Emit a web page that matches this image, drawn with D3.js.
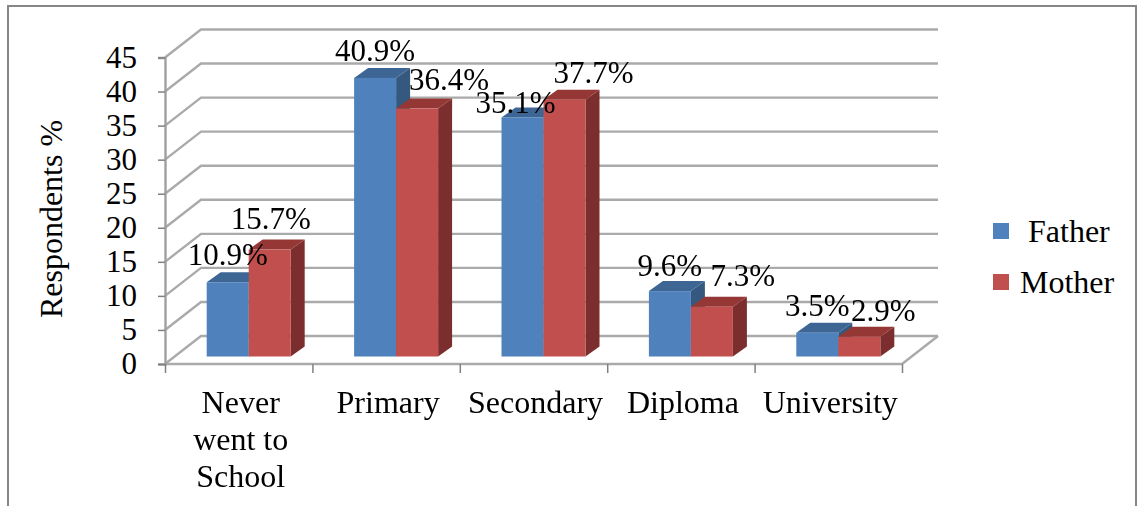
<!DOCTYPE html>
<html>
<head>
<meta charset="utf-8">
<script src="https://cdn.jsdelivr.net/npm/d3@7"></script>
<style>
  html, body { margin: 0; padding: 0; background: #fff; }
  svg { display: block; }
  text { font-family: "Liberation Serif", serif; fill: #000; }
</style>
</head>
<body>
<div id="chart"></div>
<script>
// values
const categories = [["Never", "went to", "School"], ["Primary"], ["Secondary"], ["Diploma"], ["University"]];
const seriesNames = ["Father", "Mother"];
const fatherValues = [10.9, 40.9, 35.1, 9.6, 3.5];
const motherValues = [15.7, 36.4, 37.7, 7.3, 2.9];
const yTicks = [0, 5, 10, 15, 20, 25, 30, 35, 40, 45];

const width = 1138, height = 506;
const fontSize = 32;

// plot box, front corner of the 3d floor
const plot = { left: 165, right: 902, top: 57.5, bottom: 364 };
const wall = { dx: 36, dy: -28 };      // how far the back wall sits behind the front edge
const barInset = { dx: 10, dy: -7.5 }; // where the bars stand on the floor
const barDepth = { dx: 14, dy: -10 };
const barWidth = 42;

const colors = {
    Father: { front: "#4f81bd", top: "#3c6695", side: "#34597f" },
    Mother: { front: "#c0504d", top: "#953735", side: "#7b2f2d" }
};

// labels were moved by hand in the original, [dx, baseline above bar top]
const labelNudge = {
    Father: [[0, 17], [0, 17], [-7, 4], [0, 15], [0, 17]],
    Mother: [[1, 21], [32, 19], [29, 17], [31, 21], [24, 16]]
};

const svg = d3.select("#chart").append("svg")
    .attr("width", width)
    .attr("height", height);

const defs = svg.append("defs");
defs.append("filter").attr("id", "soft")
    .append("feGaussianBlur").attr("stdDeviation", 0.5);

const y = d3.scaleLinear().domain([0, 45]).range([plot.bottom, plot.top]);
const xEdge = d3.scaleLinear().domain([0, categories.length]).range([plot.left, plot.right]);
const x0 = d3.scaleBand().domain(d3.range(categories.length)).range([plot.left, plot.right]);
const x1 = d3.scaleBand().domain(seriesNames)
    .range([0, barWidth * 2]);
const groupOffset = (x0.bandwidth() - barWidth * 2) / 2;

//outer frame, open at the bottom
svg.append("path")
    .attr("d", d3.line()([[8, height], [8, 6], [1136, 6], [1136, height]]))
    .attr("fill", "none")
    .attr("stroke", "#868686")
    .attr("stroke-width", 2);

//gridlines on the back wall and side wall
const grid = svg.append("g").attr("filter", "url(#soft)");
grid.selectAll(".grid")
    .data(yTicks)
    .enter()
    .append("path")
    .attr("class", "grid")
    .attr("d", d => d3.line()([
        [plot.left, y(d)],
        [plot.left + wall.dx, y(d) + wall.dy],
        [plot.right + wall.dx, y(d) + wall.dy]
    ]))
    .attr("fill", "none")
    .attr("stroke", "#aaaaaa")
    .attr("stroke-width", 2.4);

//floor edges
grid.append("path")
    .attr("d", d3.line()([
        [plot.left, plot.bottom],
        [plot.right, plot.bottom],
        [plot.right + wall.dx, plot.bottom + wall.dy]
    ]))
    .attr("fill", "none")
    .attr("stroke", "#aaaaaa")
    .attr("stroke-width", 2.4);

//axes
const yAxis = svg.append("g")
    .attr("transform", "translate(" + plot.left + ",0)")
    .call(d3.axisLeft(y).tickValues(yTicks).tickSize(7).tickPadding(21));
yAxis.select(".domain").attr("stroke", "#a0a0a0").attr("stroke-width", 2.4);
yAxis.selectAll("line").attr("stroke", "#808080").attr("stroke-width", 1.5);
yAxis.selectAll("text")
    .style("font-family", '"Liberation Serif", serif')
    .style("font-size", "31px");

const xAxis = svg.append("g")
    .attr("transform", "translate(0," + plot.bottom + ")")
    .call(d3.axisBottom(xEdge).ticks(categories.length).tickSize(9).tickFormat(""));
xAxis.select(".domain").remove();
xAxis.selectAll("line").attr("stroke", "#808080").attr("stroke-width", 1.5);

//bars
function drawSeries(name, values) {
    const c = colors[name];
    const g = svg.append("g").attr("filter", "url(#soft)");
    const bars = g.selectAll(".bar-" + name)
        .data(values)
        .enter()
        .append("g")
        .attr("class", "bar-" + name)
        .attr("transform", (d, i) => "translate(" + (x0(i) + groupOffset + x1(name) + barInset.dx) + "," + barInset.dy + ")");

    bars.append("path")
        .attr("fill", c.side)
        .attr("d", d => d3.line()([
            [barWidth, plot.bottom],
            [barWidth + barDepth.dx, plot.bottom + barDepth.dy],
            [barWidth + barDepth.dx, y(d) + barDepth.dy],
            [barWidth, y(d)]
        ]) + "Z");

    bars.append("path")
        .attr("fill", c.top)
        .attr("d", d => d3.line()([
            [0, y(d)],
            [barDepth.dx, y(d) + barDepth.dy],
            [barWidth + barDepth.dx, y(d) + barDepth.dy],
            [barWidth, y(d)]
        ]) + "Z");

    bars.append("rect")
        .attr("fill", c.front)
        .attr("x", 0)
        .attr("y", d => y(d))
        .attr("width", barWidth)
        .attr("height", d => plot.bottom - y(d));
}

//father first so mother sits over it
drawSeries("Father", fatherValues);
drawSeries("Mother", motherValues);

//value labels
function drawLabels(name, values) {
    svg.selectAll(".label-" + name)
        .data(values)
        .enter()
        .append("text")
        .attr("class", "label-" + name)
        .attr("x", (d, i) => x0(i) + groupOffset + x1(name) + barInset.dx + barWidth / 2 + labelNudge[name][i][0])
        .attr("y", (d, i) => y(d) + barInset.dy - labelNudge[name][i][1])
        .attr("text-anchor", "middle")
        .style("font-size", "31px")
        .text(d => d.toFixed(1) + "%");
}
drawLabels("Father", fatherValues);
drawLabels("Mother", motherValues);

//category labels
const catLabels = svg.selectAll(".cat")
    .data(categories)
    .enter()
    .append("text")
    .attr("class", "cat")
    .attr("text-anchor", "middle")
    .style("font-size", fontSize + "px");
catLabels.selectAll("tspan")
    .data((d, i) => d.map(t => ({ t: t, i: i })))
    .enter()
    .append("tspan")
    .attr("x", d => x0(d.i) + x0.bandwidth() / 2 + 2)
    .attr("y", (d, j) => 413 + j * 37)
    .text(d => d.t);

//axis title
svg.append("text")
    .attr("transform", "translate(62,219) rotate(-90)")
    .attr("text-anchor", "middle")
    .style("font-size", fontSize + "px")
    .text("Respondents %");

//legend
const legendY = d3.scalePoint().domain(seriesNames).range([223, 274]);
svg.selectAll(".legend-box")
    .data(seriesNames)
    .enter()
    .append("rect")
    .attr("class", "legend-box")
    .attr("x", 993)
    .attr("y", d => legendY(d))
    .attr("width", 16)
    .attr("height", 16)
    .attr("fill", d => colors[d].front);
svg.selectAll(".legend-text")
    .data(seriesNames)
    .enter()
    .append("text")
    .attr("class", "legend-text")
    .attr("x", d => d == "Father" ? 1028 : 1020)
    .attr("y", d => legendY(d) + 19)
    .style("font-size", fontSize + "px")
    .text(d => d);
</script>
</body>
</html>
